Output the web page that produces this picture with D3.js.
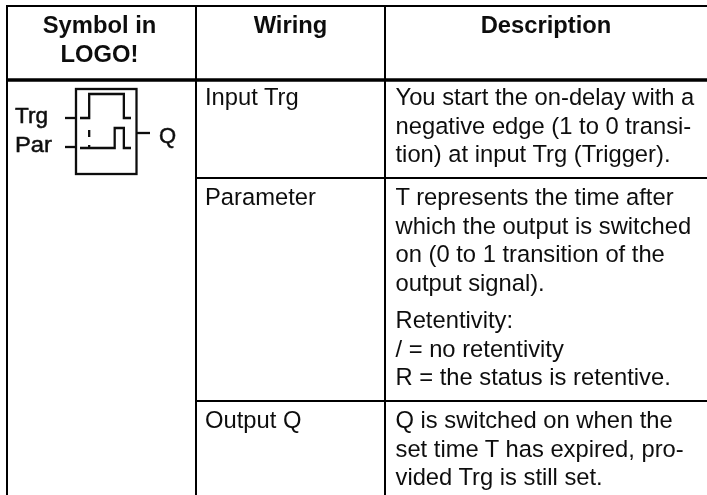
<!DOCTYPE html>
<html>
<head>
<meta charset="utf-8">
<script src="https://cdn.jsdelivr.net/npm/d3@7"></script>
<style>
  html, body { margin: 0; padding: 0; background: #fff; }
  svg { display: block; }
  text { font-family: "Liberation Sans", Arial, sans-serif; fill: #111; }
</style>
</head>
<body>
<div id="chart"></div>
<script>
// table content
var headers = [["Symbol in", "LOGO!"], ["Wiring"], ["Description"]];
var wiring = ["Input Trg", "Parameter", "Output Q"];
var descriptions = [
  ["You start the on-delay with a", "negative edge (1 to 0 transi-", "tion) at input Trg (Trigger)."],
  ["T represents the time after", "which the output is switched", "on (0 to 1 transition of the", "output signal)."],
  ["Q is switched on when the", "set time T has expired, pro-", "vided Trg is still set."]
];
var retentivity = ["Retentivity:", "/ = no retentivity", "R = the status is retentive."];

// symbol: the two signal traces, as time / level pairs
var trgTimes = [0, 18, 18, 86, 86, 100];
var trgLevels = [0, 0, 1, 1, 0, 0];
var parTimes = [0, 68, 68, 86, 86, 100];
var parLevels = [0, 0, 1, 1, 0, 0];
var pinLabels = ["Trg", "Par", "Q"];

var width = 707, height = 495;
var colX = [7, 196, 385];
var rowY = [6, 80, 178, 401];
var lineHeight = 28.7;

var svg = d3.select("#chart").append("svg")
  .attr("width", width)
  .attr("height", height);

// the reference is a slightly soft scan, so soften text and symbol a little
var defs = svg.append("defs");
defs.append("filter").attr("id", "soft")
  .append("feGaussianBlur").attr("stdDeviation", 0.35);
defs.append("filter").attr("id", "softer")
  .append("feGaussianBlur").attr("stdDeviation", 0.6);

// grid lines
var grid = svg.append("g").attr("stroke", "#000");
grid.selectAll("line.col")
  .data(colX)
  .enter()
  .append("line")
  .attr("x1", d => d).attr("x2", d => d)
  .attr("y1", rowY[0] - 1).attr("y2", height)
  .attr("stroke-width", 2);
grid.selectAll("line.row")
  .data(rowY)
  .enter()
  .append("line")
  .attr("x1", (d, i) => i < 2 ? colX[0] - 1 : colX[1])
  .attr("x2", width)
  .attr("y1", d => d).attr("y2", d => d)
  .attr("stroke-width", (d, i) => i == 1 ? 3.4 : 2);

// draws a block of lines from a first baseline
function block(lines, x, y, anchor, bold) {
  svg.append("g")
    .attr("filter", "url(#soft)")
    .selectAll("text")
    .data(lines)
    .enter()
    .append("text")
    .attr("x", x)
    .attr("y", (d, i) => y + i * lineHeight)
    .attr("text-anchor", anchor || "start")
    .attr("font-size", "23.75px")
    .attr("font-weight", bold ? "bold" : "normal")
    .text(d => d);
}

block(headers[0], 99.5, 33, "middle", true);
block(headers[1], 290.5, 33, "middle", true);
block(headers[2], 546, 33, "middle", true);

block([wiring[0]], 205, 105);
block([wiring[1]], 205, 205);
block([wiring[2]], 205, 428);

block(descriptions[0], 395.5, 105);
block(descriptions[1], 395.5, 205);
block(retentivity, 395.5, 328);
block(descriptions[2], 395.5, 428);

// LOGO! block symbol
var sym = svg.append("g")
  .attr("filter", "url(#softer)")
  .attr("fill", "none")
  .attr("stroke", "#111")
  .attr("stroke-width", 2.3);

var xT = d3.scaleLinear().domain([0, 100]).range([80, 131]);
var yTrg = d3.scaleLinear().domain([0, 1]).range([118, 94]);
var yPar = d3.scaleLinear().domain([0, 1]).range([148, 128]);

sym.append("rect")
  .attr("x", 76).attr("y", 89)
  .attr("width", 60.5).attr("height", 85);

function trace(times, levels, yScale) {
  var line = d3.line()
    .x(d => xT(d))
    .y((d, i) => yScale(levels[i]));
  sym.append("path").attr("d", line(times));
}
trace(trgTimes, trgLevels, yTrg);
trace(parTimes, parLevels, yPar);

// dotted marker under the Trg falling edge
sym.append("line")
  .attr("x1", xT(18)).attr("x2", xT(18))
  .attr("y1", 130).attr("y2", 148)
  .attr("stroke-dasharray", "7 8");

// pins
sym.append("line").attr("x1", 65).attr("x2", 76).attr("y1", 118).attr("y2", 118);
sym.append("line").attr("x1", 65).attr("x2", 76).attr("y1", 147).attr("y2", 147);
sym.append("line").attr("x1", 137).attr("x2", 150).attr("y1", 133).attr("y2", 133);

var labels = svg.append("g")
  .attr("filter", "url(#softer)")
  .attr("font-size", "22px")
  .attr("stroke", "#111")
  .attr("stroke-width", 0.5);
labels.append("text").attr("x", 15).attr("y", 123).attr("textLength", 33).attr("lengthAdjust", "spacingAndGlyphs").text(pinLabels[0]);
labels.append("text").attr("x", 15).attr("y", 152).attr("textLength", 37).attr("lengthAdjust", "spacingAndGlyphs").text(pinLabels[1]);
labels.append("text").attr("x", 159).attr("y", 143).text(pinLabels[2]);
</script>
</body>
</html>
